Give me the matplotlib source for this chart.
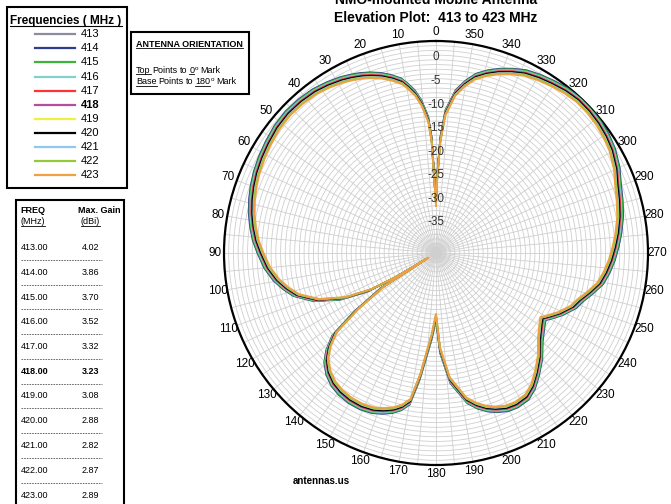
import numpy as np
import matplotlib
matplotlib.use('Agg')
import matplotlib.pyplot as plt
from matplotlib.lines import Line2D
from matplotlib.patches import Rectangle

plt.rcParams['font.family'] = ['Liberation Sans', 'DejaVu Sans']

# --- data ---
freqs = [413, 414, 415, 416, 417, 418, 419, 420, 421, 422, 423]
max_gain = [4.02, 3.86, 3.70, 3.52, 3.32, 3.23, 3.08, 2.88, 2.82, 2.87, 2.89]
freq_colors = ['#8c8ca0', '#2e3d8f', '#3cb43c', '#80d0d0', '#ff3333', '#b4509a',
               '#f0f040', '#000000', '#90c8f0', '#96c83c', '#f0a040']
# small per-frequency shift of the traces (dB), estimated from the spread
freq_shift = [0.5, 0.7, 0.55, 0.35, 0.15, 0.0, -0.2, -0.05, -0.3, -0.4, -0.6]

# elevation pattern at 418 MHz (deg, dB)
angles_deg = [0, 1, 2.2, 3.3, 5.5, 7.5, 9.4, 11.3, 14.2, 17.1,
              20, 22.8, 25.7, 28.6, 32.8, 36.9, 41.7, 46.6, 51.7, 56.8,
              61.4, 66, 70, 73.9, 77.9, 81.8, 86, 90, 95, 99.6,
              103.2, 106.8, 111.5, 116, 119.3, 121, 121.6, 122.6, 125.7, 128.5,
              131.5, 134.4, 138, 141.8, 145.5, 149.7, 154, 158.2, 161.5, 164.8,
              167.5, 170.1, 172.6, 177, 180, 182.4, 186.3, 191.8, 195, 198.1,
              201, 204.5, 208, 212.3, 216, 220, 225, 230.1, 236.4, 238.5,
              240.8, 244, 248.6, 251.9, 255.5, 259.5, 263.5, 267.7, 272, 276.2,
              281.2, 286, 290.5, 295, 300.3, 304.5, 308.6, 312.8, 317, 321.3,
              325.6, 329.6, 333.6, 337.3, 340.9, 344.2, 347.4, 350.3, 353.1, 356.2,
              357.8, 359.2, 360]
gain_db = [-31.4, -28, -18, -13.7, -10.1, -7.8, -6.3, -4.9, -3.7, -2.7,
           -1.9, -1.25, -0.7, -0.2, 0.35, 0.8, 1.05, 1.15, 0.95, 0.5,
           0.1, -0.35, -0.85, -1.4, -2.05, -2.8, -3.7, -4.8, -6.1, -7.7,
           -9.3, -11.1, -14.8, -20.1, -25.9, -32.3, -39.5, -28.7, -21.3, -14.6,
           -11.6, -9.5, -7.9, -6.8, -6.2, -5.85, -5.8, -6.1, -6.7, -7.5,
           -8.5, -10, -15.5, -24.2, -28.5, -21.4, -14.9, -10.1, -8.5, -7.3,
           -6.5, -5.8, -5.6, -5.9, -7.0, -8.7, -10.8, -13.2, -15, -15.4,
           -14.3, -12.7, -10.7, -9.8, -8.3, -6.6, -5.6, -4.7, -3.9, -3.1,
           -2.2, -1.5, -0.8, 0.3, 1.3, 1.8, 2.15, 2.35, 2.4, 2.1,
           1.6, 1.15, 0.6, -0.3, -1.3, -2.4, -3.7, -5.6, -7.85, -12.3,
           -18, -26.5, -31.4]

W, H = 671, 504
fig = plt.figure(figsize=(W / 100, H / 100), dpi=100)
renderer = fig.canvas.get_renderer()


def fx(x):
    return x / W


def fy(y):
    return 1 - y / H


def ptext(x, y, s, **kw):
    return fig.text(fx(x), fy(y), s, **kw)


def hline(x0, x1, y, **kw):
    fig.add_artist(Line2D([fx(x0), fx(x1)], [fy(y), fy(y)], transform=fig.transFigure, **kw))


def underline(t, lw=0.6):
    bb = t.get_window_extent(renderer)
    y = H - (bb.y0 + 1.0)
    hline(bb.x0, bb.x1, y, color='black', lw=lw)


def box(x0, y0, x1, y1, lw=1.5):
    fig.add_artist(Rectangle((fx(x0), fy(y1)), fx(x1) - fx(x0), fy(y0) - fy(y1),
                             transform=fig.transFigure, fill=False, ec='black', lw=lw))


# --- polar plot ---
cx, cy, R = 436, 253, 212
ax = fig.add_axes([fx(cx - R), fy(cy + R), 2 * R / W, 2 * R / H], projection='polar')
ax.set_theta_zero_location('N')
ax.set_theta_direction(1)
rmin, rmax = -42, 3
ax.set_ylim(rmin, rmax)
ax.set_yticks(np.arange(-41, 3, 1))
ax.set_yticklabels([])
ax.set_xticks(np.deg2rad(np.arange(0, 360, 5)))
ax.set_xticklabels([])
ax.grid(True, color='#cfcfcf', lw=0.6)
ax.spines['polar'].set_color('black')
ax.spines['polar'].set_linewidth(1.6)

th = np.deg2rad(angles_deg)
for f, c, s in zip(freqs, freq_colors, freq_shift):
    ax.plot(th, np.array(gain_db) + s, color=c, lw=1.3, zorder=3)

for a in range(0, 360, 10):
    ax.text(np.deg2rad(a), rmax + 1.95, str(a), ha='center', va='center', fontsize=8.5)
for v in range(0, -40, -5):
    ax.text(0, v - 0.5, str(v), ha='center', va='center', fontsize=8.5, color='#333333', zorder=4)

# first title line sits partly above the top edge, as in the reference
ptext(436, 4.5, 'NMO-mounted Mobile Antenna', ha='center', va='baseline', fontsize=10, weight='bold')
ptext(436, 22, 'Elevation Plot:  413 to 423 MHz', ha='center', va='baseline', fontsize=10, weight='bold')
ptext(321, 481, 'antennas.us', ha='center', va='center', fontsize=7, weight='bold')

# --- frequency legend ---
box(7, 7, 127, 188)
t = ptext(66, 24, 'Frequencies ( MHz )', ha='center', va='baseline', fontsize=8.5, weight='bold')
underline(t, lw=0.8)
for i, (f, c) in enumerate(zip(freqs, freq_colors)):
    y = 34.3 + 14.07 * i
    hline(35, 75, y, color=c, lw=1.6)
    ptext(81, y, str(f), ha='left', va='center', fontsize=8,
          weight='bold' if f == 418 else 'normal')

# --- orientation box ---
box(131, 32, 249, 94)
t = ptext(136, 47, 'ANTENNA ORIENTATION', ha='left', va='baseline', fontsize=6.5, weight='bold')
underline(t)


def seq_text(x, y, parts, size=6.5):
    for s, ul, sup, gap in parts:
        x += gap
        if sup:
            t = ptext(x, y - 3.5, s, ha='left', va='baseline', fontsize=size * 0.7)
        else:
            t = ptext(x, y, s, ha='left', va='baseline', fontsize=size)
        if ul:
            underline(t)
        x = t.get_window_extent(renderer).x1


sp = 2.0
seq_text(136, 73, [('Top', True, False, 0), ('Points', False, False, sp), ('to', False, False, sp),
                   ('0', True, False, sp), ('o', False, True, 0.6), ('Mark', False, False, sp)])
seq_text(136, 84.5, [('Base', True, False, 0), ('Points', False, False, sp), ('to', False, False, sp),
                     ('180', True, False, sp), ('o', False, True, 0.6), ('Mark', False, False, sp)])

# --- max gain table ---
box(16, 200, 124, 520)
ptext(20.5, 213, 'FREQ', ha='left', va='baseline', fontsize=6.5, weight='bold')
t = ptext(20.5, 224.5, '(MHz)', ha='left', va='baseline', fontsize=6.5)
underline(t)
ptext(120, 213, 'Max. Gain', ha='right', va='baseline', fontsize=6.5, weight='bold')
t = ptext(100, 224.5, '(dBi)', ha='right', va='baseline', fontsize=6.5)
underline(t)
for i, (f, g) in enumerate(zip(freqs, max_gain)):
    y = 247.5 + 24.75 * i
    wt = 'bold' if f == 418 else 'normal'
    ptext(20.5, y, f'{f:.2f}', ha='left', va='center', fontsize=6.5, weight=wt)
    ptext(99.5, y, f'{g:.2f}', ha='right', va='center', fontsize=6.5, weight=wt)
    if i < len(freqs) - 1:
        hline(20.5, 101.5, y + 12.4, color='#555555', lw=0.6, ls=(0, (2, 1.2)))

fig.savefig('out.png', dpi=100)
